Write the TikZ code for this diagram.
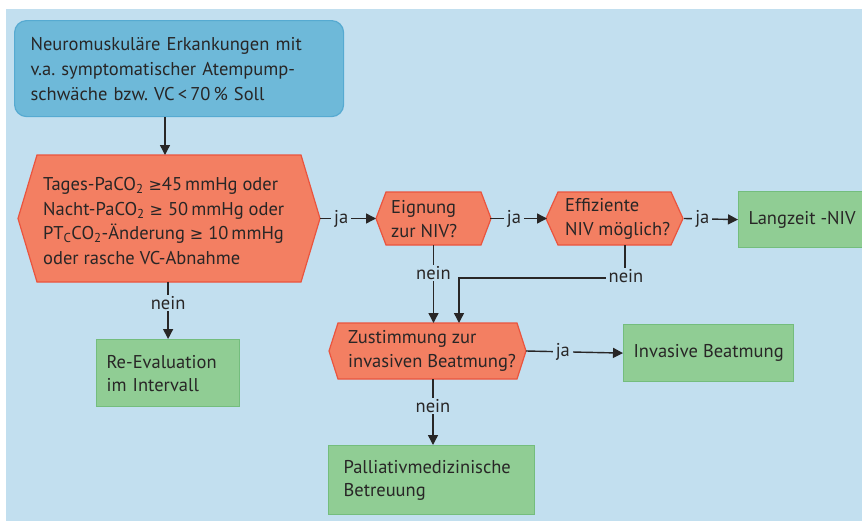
\documentclass[tikz,border=0pt]{standalone}
\usepackage{fontspec}
\setmainfont{PT Sans}
\newfontfamily\symf{DejaVu Sans}
\usetikzlibrary{arrows.meta,calc}
\definecolor{bg}{RGB}{194,223,239}
\definecolor{startfill}{RGB}{110,185,217}
\definecolor{startline}{RGB}{86,170,209}
\definecolor{hexfill}{RGB}{243,127,98}
\definecolor{hexline}{RGB}{234,84,62}
\definecolor{grfill}{RGB}{144,205,148}
\definecolor{grline}{RGB}{116,189,125}
\definecolor{ink}{RGB}{40,38,38}
\newcommand\gsym{{\symf\fontsize{16}{16}\selectfont ≥}}
\newcommand\hexdraw[2]{%
  \path[hexshape] (#1.north west) -- (#1.north east) -- ([xshift=#2]#1.east)
    -- (#1.south east) -- (#1.south west) -- ([xshift=-#2]#1.west) -- cycle;}
\begin{document}
\frenchspacing
\begin{tikzpicture}[x=1pt,y=-1pt,
  font=\fontsize{18.5}{24.5}\selectfont, text=ink,
  startbox/.style={draw=startline, fill=startfill, line width=1.2pt, rounded corners=12pt,
    anchor=north west, align=left, inner xsep=16pt},
  greenbox/.style={draw=grline, fill=grfill, line width=1.2pt, anchor=north west,
    align=left, inner xsep=10pt, font=\fontsize{18.5}{23}\selectfont},
  hexbody/.style={inner sep=0pt, outer sep=0pt},
  hexshape/.style={fill=hexfill, draw=hexline, line width=1.2pt, line join=miter},
  txt/.style={anchor=west, align=left, inner sep=0pt},
  conn/.style={draw=ink, line width=1.4pt},
  arr/.style={conn, -{Triangle[length=10pt,width=10pt]}},
  lbl/.style={fill=bg, inner xsep=3pt, inner ysep=1pt}]
\useasboundingbox (0,0) rectangle (862,522);
\fill[bg] (6,9) rectangle (862,521);

% start box
\node[startbox, minimum width=329pt, minimum height=96pt, text width=297pt,
  font=\fontsize{18.5}{25}\selectfont] (start) at (14,20)
  {Neuromuskuläre Erkankungen mit\\v.a. symptomatischer Atempump-\\schwäche bzw. VC\,<\,70\,\% Soll};

% hexagons (bodies)
\node[hexbody, minimum width=264pt, minimum height=127pt] (h1) at (169,218.5) {};
\hexdraw{h1}{19pt}
\node[txt] (h1t) at (43,221)
  {Tages-PaCO\textsubscript{2} \gsym45\,mmHg oder\\
   Nacht-PaCO\textsubscript{2} \gsym\ 50\,mmHg oder\\
   PT\textsubscript{C}CO\textsubscript{2}-Änderung \gsym\ 10\,mmHg\\
   oder rasche VC-Abnahme};
\coordinate (h1E) at ([xshift=19pt]h1.east);

\node[hexbody, minimum width=95pt, minimum height=53pt] (eig) at (433.5,218.5) {};
\hexdraw{eig}{10pt}
\node[txt, font=\fontsize{18.5}{23.5}\selectfont] (eigt) at (391,219) {Eignung\\zur NIV?};
\coordinate (eigW) at ([xshift=-10pt]eig.west);
\coordinate (eigE) at ([xshift=9pt]eig.east);

\node[hexbody, minimum width=113pt, minimum height=53pt] (eff) at (614.5,218.5) {};
\hexdraw{eff}{12pt}
\node[txt, font=\fontsize{18.5}{23.5}\selectfont] (efft) at (565,219) {Effiziente\\NIV möglich?};
\coordinate (effW) at ([xshift=-11pt]eff.west);
\coordinate (effE) at ([xshift=13pt]eff.east);

\node[hexbody, minimum width=179pt, minimum height=56pt] (zus) at (427.5,351) {};
\hexdraw{zus}{9pt}
\node[txt] (zust) at (348,351) {Zustimmung zur\\invasiven Beatmung?};
\coordinate (zusE) at ([xshift=9pt]zus.east);

% green boxes
\node[greenbox, minimum width=123pt, minimum height=56pt] (lang) at (738,191) {Langzeit -NIV};
\node[greenbox, minimum width=168pt, minimum height=57pt] (inv) at (623,324) {Invasive Beatmung};
\node[greenbox, minimum width=143pt, minimum height=67pt, text width=123pt] (reev) at (96,339) {Re-Evaluation\\im Intervall};
\node[greenbox, minimum width=196pt, minimum height=69pt, text width=176pt, inner xsep=15pt] (pall) at (328,445) {Palliativmedizinische\\Betreuung};

% connectors
\draw[arr] ([xshift=-4pt]h1.north |- start.south) -- ([xshift=-4pt]h1.north);
\draw[arr] (h1E) -- node[lbl, pos=0.38] {ja} (eigW);
\draw[arr] (eigE) -- node[lbl, pos=0.42] {ja} (effW);
\draw[arr] (effE) -- node[lbl, pos=0.34] {ja} (lang.west);
\draw[arr] (zusE) -- node[lbl, pos=0.38] {ja} (inv.west);
\draw[arr] (reev.north |- h1.south) -- node[lbl, pos=0.37] {nein} (reev.north);
\draw[arr] (eig.south) -- node[lbl, pos=0.36] {nein} (eig.south |- zus.north);
\coordinate (effS) at ([xshift=10.5pt]eff.south);
\coordinate (effK) at ($(effS)+(0,33)$);
\coordinate (zusN) at ([xshift=31.5pt]zus.north);
\draw[arr] (effS) -- (effK) -- (effK -| zusN) -- (zusN);
\node[lbl] (nein3) at ($(effK)+(1,-2)$) {nein};
\draw[arr] ([xshift=5.5pt]zus.south) -- node[lbl, pos=0.41] {nein} ([xshift=5.5pt]zus.south |- pall.north);
\end{tikzpicture}
\end{document}
